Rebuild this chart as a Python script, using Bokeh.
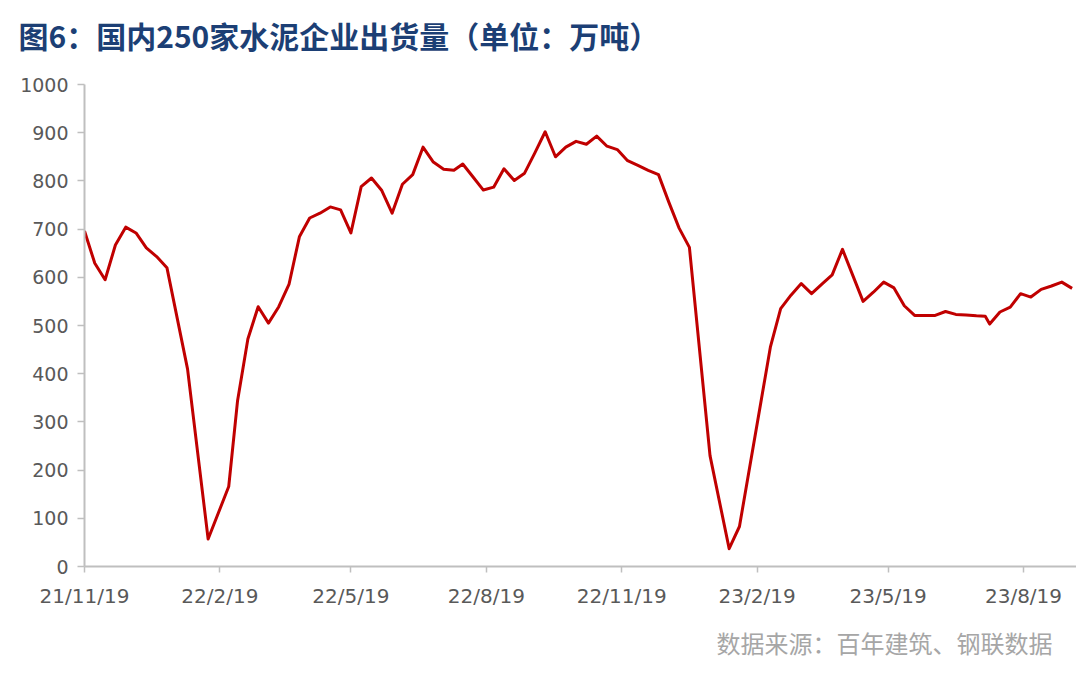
import pandas as pd
from bokeh.plotting import figure
from bokeh.models import Range1d, FixedTicker, Title
from bokeh.embed import file_html
from bokeh.resources import INLINE

title_text = "图6：国内250家水泥企业出货量（单位：万吨）"
source_text = "数据来源：百年建筑、钢联数据"

dates = [
    "2021-11-19", "2021-11-26", "2021-12-03", "2021-12-10", "2021-12-17", "2021-12-24",
    "2021-12-31", "2022-01-07", "2022-01-14", "2022-01-28", "2022-02-11", "2022-02-25",
    "2022-03-03", "2022-03-10", "2022-03-17", "2022-03-24", "2022-03-31", "2022-04-07",
    "2022-04-14", "2022-04-21", "2022-04-28", "2022-05-05", "2022-05-12", "2022-05-19",
    "2022-05-26", "2022-06-02", "2022-06-09", "2022-06-16", "2022-06-23", "2022-06-30",
    "2022-07-07", "2022-07-14", "2022-07-21", "2022-07-28",
    "2022-08-03", "2022-08-10", "2022-08-17", "2022-08-24", "2022-08-31", "2022-09-07",
    "2022-09-14", "2022-09-21", "2022-09-28", "2022-10-05", "2022-10-12", "2022-10-19",
    "2022-10-26", "2022-11-02", "2022-11-09", "2022-11-16", "2022-11-23", "2022-11-30",
    "2022-12-07", "2022-12-14", "2022-12-21", "2022-12-28", "2023-01-04", "2023-01-18",
    "2023-01-31", "2023-02-07", "2023-02-28", "2023-03-07", "2023-03-14", "2023-03-21",
    "2023-03-28", "2023-04-04", "2023-04-11", "2023-04-18", "2023-04-25", "2023-05-02",
    "2023-05-09", "2023-05-16", "2023-05-23", "2023-05-30", "2023-06-06", "2023-06-13",
    "2023-06-20", "2023-06-27", "2023-07-04", "2023-07-11", "2023-07-18", "2023-07-24",
    "2023-07-27", "2023-08-03", "2023-08-10", "2023-08-17", "2023-08-24", "2023-08-31",
    "2023-09-07", "2023-09-14", "2023-09-21",
]

shipments = [
    696, 629, 595, 667, 704, 692,
    661, 643, 620, 410, 57, 166,
    344, 472, 539, 505, 539, 586,
    684, 723, 733, 746, 740, 692,
    788, 806, 780, 733, 793, 813,
    870, 839, 824, 822,
    835, 808, 781, 787, 825, 801,
    816, 858, 902, 850, 870, 882,
    876, 893, 872, 865, 842, 832,
    822, 813, 756, 702, 662, 230,
    37, 83, 455, 535, 563, 587,
    566, 586, 605, 658, 604, 550,
    569, 590, 578, 541, 521, 521,
    521, 529, 523, 522, 520, 519,
    503, 528, 538, 566, 559, 575,
    582, 590, 577,
]

tick_labels = ["21/11/19", "22/2/19", "22/5/19", "22/8/19", "22/11/19", "23/2/19", "23/5/19", "23/8/19"]
y_ticks = list(range(0, 1001, 100))

x = pd.to_datetime(dates)
tick_dates = pd.to_datetime(tick_labels, format="%y/%m/%d")
tick_ms = [float(t.value // 10**6) for t in tick_dates]

start = tick_dates[0]
end = start + pd.Timedelta(days=674)

p = figure(width=1076, height=671, output_backend="svg", toolbar_location=None,
           x_axis_type="datetime", title=None,
           x_range=Range1d(start, end), y_range=Range1d(0, 1000),
           min_border_left=84, min_border_right=0, min_border_top=84, min_border_bottom=105)
p.outline_line_color = None
p.background_fill_color = "white"
p.border_fill_color = "white"
p.xgrid.visible = False
p.ygrid.visible = False

p.line(x, shipments, line_color="#c00000", line_width=3, line_join="round")

axis_color = "#bfbfbf"
label_color = "#595959"

xa = p.xaxis[0]
xa.ticker = FixedTicker(ticks=tick_ms)
xa.major_label_overrides = {t: l for t, l in zip(tick_ms, tick_labels)}
xa.axis_line_color = axis_color
xa.axis_line_width = 2
xa.major_tick_line_color = axis_color
xa.major_tick_line_width = 1.5
xa.major_tick_in = 0
xa.major_tick_out = 6
xa.minor_tick_line_color = None
xa.major_label_standoff = 11
xa.major_label_text_font = "DejaVu Sans"
xa.major_label_text_font_size = "20px"
xa.major_label_text_color = label_color

ya = p.yaxis[0]
ya.ticker = FixedTicker(ticks=y_ticks)
ya.axis_line_color = axis_color
ya.axis_line_width = 2
ya.major_tick_line_color = axis_color
ya.major_tick_line_width = 1.5
ya.major_tick_in = 0
ya.major_tick_out = 7
ya.minor_tick_line_color = None
ya.major_label_standoff = 9
ya.major_label_text_font = "DejaVu Sans"
ya.major_label_text_font_size = "19px"
ya.major_label_text_color = label_color

# blank spacer (added first, so nearest the frame) between heading and plot
p.add_layout(Title(text="\u3000", standoff=9, text_font="Noto Sans CJK SC",
                   text_font_size="10px", text_color="white"), "above")

p.add_layout(Title(text=title_text, align="left", offset=-66, standoff=0,
                   vertical_align="top",
                   text_font="Noto Sans CJK SC", text_font_style="bold",
                   text_font_size="30px", text_color="#1c3f75"), "above")

p.add_layout(Title(text=source_text, align="right", offset=24, standoff=24,
                   text_font="Noto Sans CJK SC", text_font_style="normal",
                   text_font_size="24px", text_color="#a6a6a6"), "below")

open("out.html", "w").write(file_html(p, INLINE))
